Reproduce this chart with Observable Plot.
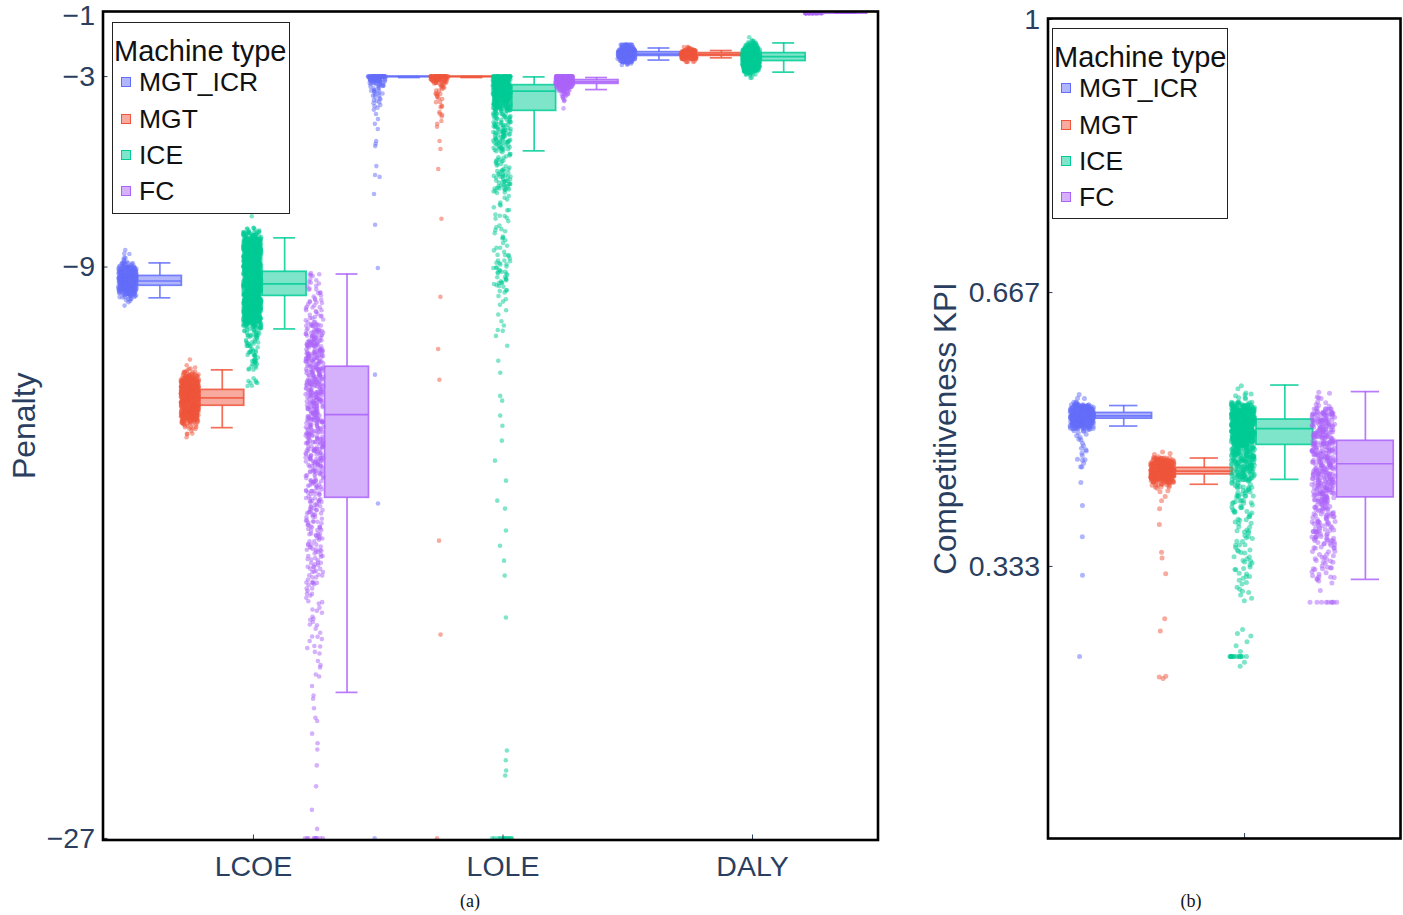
<!DOCTYPE html>
<html><head><meta charset="utf-8">
<script src="https://cdn.jsdelivr.net/npm/d3@7"></script>
<script src="https://cdn.jsdelivr.net/npm/@observablehq/plot@0.6"></script>
<style>
html,body{margin:0;padding:0;background:#fff;font-family:"Liberation Sans",Arial,sans-serif}
#page{position:relative;width:1403px;height:915px;overflow:hidden}
#page svg{position:absolute;top:0;max-width:none;overflow:visible}
.legend{position:absolute;background:#fff;border:1px solid #222;box-sizing:border-box;color:#111}
.legend .t{position:absolute;left:1px;top:11px;font-size:29px;line-height:34px;white-space:nowrap}
.legend .i{position:absolute;left:26px;font-size:26.5px;line-height:30px;white-space:nowrap}
.legend .s{position:absolute;left:8px;width:10px;height:10px;box-sizing:border-box;border:1.5px solid}
.cap{position:absolute;top:891px;font:18px "Liberation Serif",serif;color:#111;transform:translateX(-50%)}
</style></head><body><div id="page"></div>
<script>
const types = ["MGT_ICR","MGT","ICE","FC"];
const colors = ["#636EFA","#EF553B","#00CC96","#AB63FA"];
const categories = ["LCOE","LOLE","DALY"];
const yTicksA = [-3,-9,-27];
const yTopTickA = [-1];
const yTicksB = [0.333,0.667,1];
const yLabelsB = ["0.333","0.667","1"];

// Panel (a): dots tallied per level, from the top level downwards in steps of 0.1
const aLcoeIcrTop=-8.5, aLcoeIcr=[1,2,2,3,12,30,40,45,45,45,45,45,40,30,14,5,2,1];
const aLcoeMgtTop=-11.9, aLcoeMgt=[1,0,1,3,8,16,30,45,45,45,45,45,45,45,45,45,45,45,45,30,14,7,4,2,2,1];
const aLcoeIceTop=-7.4, aLcoeIce=[1,0,0,0,6,14,20,28,34,38,42,45,45,45,45,45,45,45,45,45,45,45,45,45,45,45,45,45,45,45,45,45,40,34,24,14,9,6,7,5,6,5,4,4,5,4,5,4,4,0,0,1,4,3];
const aLcoeFcTop=-9.2, aLcoeFc=[3,2,2,3,2,3,3,2,3,4,3,3,4,3,4,5,6,6,9,8,11,9,11,12,9,11,11,12,11,9,12,11,11,9,12,11,9,11,12,9,11,9,11,8,11,9,11,9,9,8,9,9,8,9,8,9,8,8,9,8,8,6,8,5,7,5,5,7,4,5,5,4,7,5,4,5,5,4,5,4,5,4,4,5,4,3,4,5,3,4,4,3,4,3,4,3,3,4,3,2,1,2,2,1,2,1,2,1,1,2,1,2,1,1,2,1,1,1,2,1,1,0,1,1,1,0,1,1,0];
const aLcoeFcSparse=[-22.2,-22.5,-22.6,-22.9,-23.2,-23.3,-23.7,-24.0,-24.2,-24.7,-25.36,-26.1,-26.7];
const aLoleIcrTop=-3, aLoleIcr=[60,40,12,7,6,5,4,3,3,2,2];
const aLoleIcrSparse=[-4.18,-4.34,-4.49,-4.65,-5.03,-5.12,-5.19,-5.82,-6.1,-6.16,-6.7,-7.67,-9.03,-12.39,-16.45,-27];
const aLoleMgtTop=-3, aLoleMgt=[50,32,10,6,4,3,3,2,2,2,1,1,2,1];
const aLoleMgtSparse=[-4.4,-4.49,-4.58,-5.03,-5.28,-5.91,-7.48,-9.94,-11.58,-12.55,-17.62,-20.58,-27];
const aLoleIceTop=-3, aLoleIce=[45,45,42,42,40,38,36,34,30,26,22,10,9,10,9,8,9,10,9,8,10,9,8,8,3,3,4,4,4,3,6,7,6,7,7,6,5,2,2,1,2,2,2,1,2,2,1,2,2,2,1,2,2,1,2,2,3,2,3,4,4,3,4,3,4,4,3,2,2,1,1,1,1,0,1,1,0,1,1,0,1];
const aLoleIceSparse=[-11.01,-11.17,-11.48,-11.95,-12.33,-13.06,-13.21,-13.68,-14.0,-14.47,-15.1,-15.73,-16.36,-16.61,-17.3,-17.78,-18.25,-18.72,-20.04,-24.23,-24.54,-24.86,-25.02];
const aLoleFcTop=-3, aLoleFc=[70,70,60,40,20,10,5,3,1,0,1];
const aDalyIcrTop=-2, aDalyIcr=[16,40,60,70,60,36,6];
const aDalyMgtTop=-2.1, aDalyMgt=[8,50,90,50,8];
const aDalyIceTop=-1.8, aDalyIce=[1,6,20,36,50,60,60,60,60,50,36,14,3];
const aDalyFcTop=-1, aDalyFc=[40];
// Panel (a): tight clusters on the axis floor [value, count]
const aLcoeFcFloor=[-27,10], aLoleIceFloor=[-27,14];

// Panel (a): box summaries, rows run MGT_ICR, MGT, ICE, FC within LCOE, LOLE, DALY
const aLow =[-9.97,-14.06,-10.95,-22.4, -3.03,-3.03,-5.34,-3.41, -2.48,-2.41,-2.86,-1];
const aQ1  =[-9.59,-13.37,-9.91,-16.27, -3.01,-3.01,-4.08,-3.23, -2.35,-2.35,-2.51,-1];
const aMed =[-9.44,-13.12,-9.53,-13.65, -3.0,-3.0,-3.46,-3.17, -2.29,-2.3,-2.37,-1];
const aQ3  =[-9.28,-12.87,-9.15,-12.14, -3.0,-3.0,-3.27,-3.11, -2.23,-2.26,-2.26,-1];
const aHigh=[-8.87,-12.24,-8.08,-9.22, -3.0,-3.0,-3.01,-3.03, -2.1,-2.18,-1.94,-1];

// Panel (b): dots tallied per level, from the top level downwards in steps of 0.004
const bIcrTop=0.54, bIcr=[1,2,3,30,45,50,50,50,50,40,16,4,2,2,1,2,2,1,2,1,2,1,2];
const bIcrSparse=[0.434,0.406,0.368,0.321,0.222];
const bMgtTop=0.472, bMgt=[1,2,14,40,50,50,50,50,46,30,10,4,2];
const bMgtSparse=[0.417,0.412,0.402,0.383,0.349,0.342,0.323,0.268,0.253,0.197,0.198,0.195];
const bIceTop=0.552, bIce=[1,1,2,2,3,10,24,36,46,50,50,50,50,50,50,50,50,50,30,22,20,20,18,18,16,16,14,14,12,10,5,6,5,6,4,4,5,4,4,3,2,3,3,2,3,2,3,3,2,2,3,2,2,3,2,2,3,2,2,2,2,1,1,1];
const bIceSparse=[0.3,0.297,0.293,0.29,0.255,0.25,0.247,0.24,0.235,0.228,0.215,0.21];
const bFcTop=0.544, bFc=[2,1,2,2,3,8,11,13,11,11,13,11,13,11,11,13,11,11,13,11,10,13,11,11,10,11,13,11,10,11,11,11,10,11,7,7,6,7,6,7,6,6,7,6,7,6,6,4,3,4,3,4,3,3,4,3,4,3,1,0,1,0];
const bIceFloor=[0.222,14], bFcFloor=[0.288,9];
const bLow =[0.503,0.432,0.438,0.316];
const bQ1  =[0.512,0.444,0.48,0.416];
const bMed =[0.5155,0.448,0.4998,0.457];
const bQ3  =[0.519,0.452,0.511,0.485];
const bHigh=[0.528,0.464,0.553,0.545];

const stripOffset=[-0.505,-0.255,-0.005,0.245];
const boxOffset=[-0.375,-0.125,0.125,0.375];
const boxHalf=0.088, capHalf=0.044, jitterMax=0.036, sparseJitter=0.012;

// Fixed scatter used only to spread overlapping dots sideways and inside their tally bin
const scatter=k=>{const s=Math.sin(k*12.9898)*43758.5453;return s-Math.floor(s);};

function addStrip(rows,type,cat,top,step,counts,sparse,floors,taper=0.22){
  const t=types.indexOf(type), c0=cat+stripOffset[t];
  const ref=Math.max(...counts)*taper;
  const tail=taper<0.1?2.4:1;
  let k=(cat+1)*1000+t*250;
  const u=()=>{k++;return scatter(k)*2-1;};
  const w=()=>scatter(k+0.37)-0.5;
  counts.forEach((n,i)=>{
    let s=0,m=0;
    for(let j=i-1;j<=i+1;j++){if(counts[j]!==undefined){s+=counts[j];m++;}}
    const amp=jitterMax*Math.min(1,Math.sqrt((s/m)/ref));
    for(let q=0;q<n;q++){const x=c0+amp*u();rows.push({type,x,y:top-i*step+(n>8&&i===0?0:step*w())});}
  });
  (sparse||[]).forEach(v=>rows.push({type,x:c0+sparseJitter*tail*u(),y:v}));
  if(floors)rows.push(...Array.from({length:floors[1]},()=>({type,x:c0+(jitterMax+0.006)*u(),y:floors[0]})));
}

const aDots=[];
addStrip(aDots,"MGT_ICR",0,aLcoeIcrTop,0.1,aLcoeIcr);
addStrip(aDots,"MGT",0,aLcoeMgtTop,0.1,aLcoeMgt);
addStrip(aDots,"ICE",0,aLcoeIceTop,0.1,aLcoeIce);
addStrip(aDots,"FC",0,aLcoeFcTop,0.1,aLcoeFc,aLcoeFcSparse,aLcoeFcFloor,0.15);
addStrip(aDots,"MGT_ICR",1,aLoleIcrTop,0.1,aLoleIcr,aLoleIcrSparse);
addStrip(aDots,"MGT",1,aLoleMgtTop,0.1,aLoleMgt,aLoleMgtSparse);
addStrip(aDots,"ICE",1,aLoleIceTop,0.1,aLoleIce,aLoleIceSparse,aLoleIceFloor,0.05);
addStrip(aDots,"FC",1,aLoleFcTop,0.1,aLoleFc,null,null,0.75);
addStrip(aDots,"MGT_ICR",2,aDalyIcrTop,0.1,aDalyIcr,null,null,0.8);
addStrip(aDots,"MGT",2,aDalyMgtTop,0.1,aDalyMgt,null,null,0.8);
addStrip(aDots,"ICE",2,aDalyIceTop,0.1,aDalyIce,null,null,0.8);
addStrip(aDots,"FC",2,aDalyFcTop,0.1,aDalyFc);

const bDots=[];
addStrip(bDots,"MGT_ICR",0,bIcrTop,0.004,bIcr,bIcrSparse);
addStrip(bDots,"MGT",0,bMgtTop,0.004,bMgt,bMgtSparse);
addStrip(bDots,"ICE",0,bIceTop,0.004,bIce,bIceSparse,bIceFloor,0.06);
addStrip(bDots,"FC",0,bFcTop,0.004,bFc,null,bFcFloor,0.1);

function boxRows(low,q1,med,q3,high){
  return low.map((_,i)=>{
    const t=i%4,c=Math.floor(i/4),x=c+boxOffset[t];
    return {type:types[t],x,low:low[i],q1:q1[i],med:med[i],q3:q3[i],high:high[i],
      x1:x-boxHalf,x2:x+boxHalf,c1:x-capHalf,c2:x+capHalf};
  });
}

function typedMarks(dots,boxes,r){
  return types.flatMap(t=>{
    const b=boxes.filter(d=>d.type===t);
    return [
      Plot.dot(dots.filter(d=>d.type===t),{x:"x",y:"y",r,fill:"type",fillOpacity:0.5,stroke:null,clip:true}),
      Plot.ruleX(b,{x:"x",y1:"low",y2:"q1",stroke:"type",strokeWidth:1.7,strokeOpacity:0.85}),
      Plot.ruleX(b,{x:"x",y1:"q3",y2:"high",stroke:"type",strokeWidth:1.7,strokeOpacity:0.85}),
      Plot.ruleY(b,{y:"low",x1:"c1",x2:"c2",stroke:"type",strokeWidth:1.7,strokeOpacity:0.85}),
      Plot.ruleY(b,{y:"high",x1:"c1",x2:"c2",stroke:"type",strokeWidth:1.7,strokeOpacity:0.85}),
      Plot.rect(b,{x1:"x1",x2:"x2",y1:"q1",y2:"q3",fill:"type",fillOpacity:0.5,stroke:"type",strokeWidth:1.7,strokeOpacity:0.85,clip:true}),
      Plot.ruleY(b,{y:"med",x1:"x1",x2:"x2",stroke:"type",strokeWidth:1.7,strokeOpacity:0.85})
    ];
  });
}

const ink="#2a3f5f";
const page=document.getElementById("page");
const colorScale={domain:types,range:colors};

const chartA=Plot.plot({
  width:900,height:890,marginLeft:102.5,marginRight:22.5,marginTop:11,marginBottom:50.5,
  style:{background:"transparent",fontFamily:"Liberation Sans, Arial, sans-serif"},
  x:{domain:[-0.603,2.503]},y:{domain:[-27.05,-0.95]},color:colorScale,
  marks:[
    ...typedMarks(aDots,boxRows(aLow,aQ1,aMed,aQ3,aHigh),2.3),
    Plot.axisX({ticks:[0,1,2],tickFormat:i=>categories[i],fontSize:28.5,color:ink,tickSize:-5,tickPadding:21,label:null}),
    Plot.axisY({ticks:yTicksA,tickFormat:v=>"\u2212"+Math.abs(v),fontSize:28.5,color:ink,tickSize:-5,tickPadding:13,label:null}),
    Plot.axisY({ticks:yTopTickA,tickFormat:v=>"\u2212"+Math.abs(v),fontSize:28.5,color:ink,tickSize:0,tickPadding:8,dy:3,label:null}),
    Plot.text(["Penalty"],{frameAnchor:"middle",dx:-466,dy:0,rotate:-90,fontSize:32,fill:ink}),
    Plot.frame({stroke:"#000",strokeWidth:2.6})
  ]
});
chartA.style.left="0px";
page.appendChild(chartA);

const chartB=Plot.plot({
  width:500,height:890,marginLeft:147.5,marginRight:0,marginTop:18,marginBottom:52,
  style:{background:"transparent",fontFamily:"Liberation Sans, Arial, sans-serif"},
  x:{domain:[-0.61,0.484]},y:{domain:[0,1]},color:colorScale,
  marks:[
    ...typedMarks(bDots,boxRows(bLow,bQ1,bMed,bQ3,bHigh),2.5),
    Plot.axisX({ticks:[0],tickFormat:()=>"",tickSize:-5,color:ink,label:null}),
    Plot.axisY({ticks:yTicksB,tickFormat:(v,i)=>yLabelsB[i],fontSize:28.5,color:ink,tickSize:-5,tickPadding:13,dy:1,label:null}),
    Plot.text(["Competitiveness KPI"],{frameAnchor:"middle",dx:-278.5,dy:0,rotate:-90,fontSize:31.5,fill:ink}),
    Plot.frame({stroke:"#000",strokeWidth:2.6})
  ]
});
chartB.style.left="900px";
page.appendChild(chartB);

function legend(left,top,width,height){
  const d=document.createElement("div");
  d.className="legend";
  Object.assign(d.style,{left:left+"px",top:top+"px",width:width+"px",height:height+"px"});
  const t=document.createElement("div");t.className="t";t.textContent="Machine type";d.appendChild(t);
  types.forEach((n,i)=>{
    const y=44.3+i*36.2;
    const s=document.createElement("div");s.className="s";
    s.style.top=(y+10)+"px";s.style.borderColor=colors[i];s.style.background=colors[i]+"80";
    d.appendChild(s);
    const l=document.createElement("div");l.className="i";l.style.top=y+"px";l.textContent=n;d.appendChild(l);
  });
  page.appendChild(d);
}
legend(112,22,178,192);
legend(1052,28,176,191);

[["(a)",470],["(b)",1191]].forEach(([s,x])=>{
  const d=document.createElement("div");d.className="cap";d.textContent=s;d.style.left=x+"px";page.appendChild(d);
});
</script></body></html>
